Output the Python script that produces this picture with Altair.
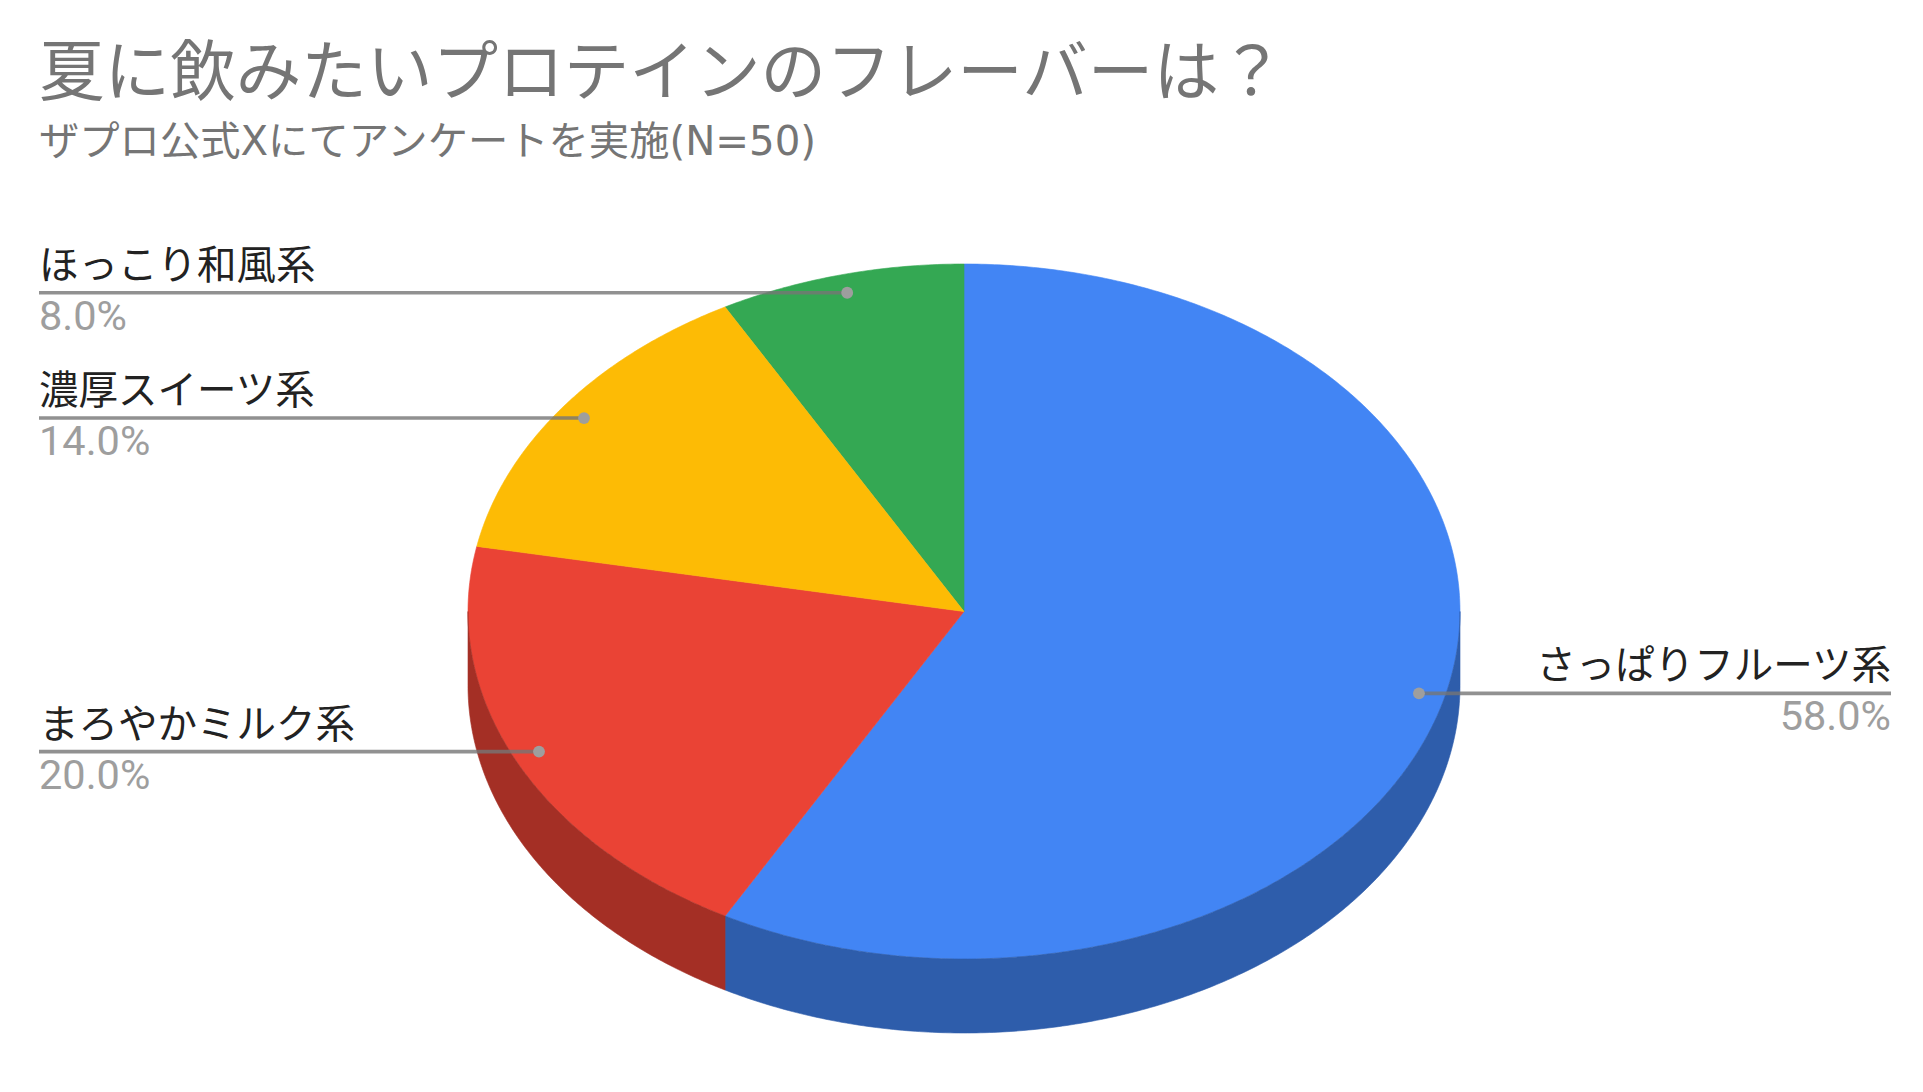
import numpy as np
import pandas as pd
import altair as alt

TITLE = "夏に飲みたいプロテインのフレーバーは？"
SUBTITLE = "ザプロ公式Xにてアンケートを実施(N=50)"
categories = ["さっぱりフルーツ系", "まろやかミルク系", "濃厚スイーツ系", "ほっこり和風系"]
shares = [58.0, 20.0, 14.0, 8.0]
percent_labels = ["58.0%", "20.0%", "14.0%", "8.0%"]
sides = ["right", "left", "left", "left"]
top_colors = ["#4285F4", "#EA4335", "#FDBB05", "#34A853"]
wall_colors = ["#2E5DAB", "#A42F25", "#B18303", "#24763A"]

# frame of the drawing, in page pixels
X0, X1, Y0, Y1 = 8, 1915, 162, 1080
CX, CY, RX, RY, DEPTH = 964, 610.5, 496, 347.5, 74
LEFT_X, RIGHT_X = 39, 1891
ANCHOR = 0.947
FONT = "Noto Sans CJK JP"
LATIN = "Roboto"


def pt(deg, r=1.0, dy=0.0):
    a = np.radians(deg)
    return [float(CX + r * RX * np.sin(a)), float(CY - r * RY * np.cos(a) + dy)]


def arc(a0, a1, dy=0.0):
    n = max(2, int(abs(a1 - a0) * 2))
    return [pt(a, 1.0, dy) for a in np.linspace(a0, a1, n)]


ends = np.cumsum(shares) * 3.6
starts = np.concatenate([[0.0], ends[:-1]])
features = []

# side wall: only the part of the front half that is seen
for name, colour, a0, a1 in zip(categories, wall_colors, starts, ends):
    lo, hi = max(a0, 90.0), min(a1, 270.0)
    if lo < hi:
        ring = arc(lo, hi) + arc(hi, lo, DEPTH)
        ring.append(ring[0])
        features.append({"type": "Feature", "geometry": {"type": "Polygon", "coordinates": [ring]},
                         "properties": {"key": "wall " + name, "name": name}})
# top face
for name, colour, a0, a1 in zip(categories, top_colors, starts, ends):
    ring = [[CX, CY]] + arc(a0, a1) + [[CX, CY]]
    features.append({"type": "Feature", "geometry": {"type": "Polygon", "coordinates": [ring]},
                     "properties": {"key": "top " + name, "name": name}})

keys = [f["properties"]["key"] for f in features]
key_colours = []
for k in keys:
    kind, nm = k.split(" ", 1)
    key_colours.append((wall_colors if kind == "wall" else top_colors)[categories.index(nm)])

rows = []
for name, pct, side, a0, a1 in zip(categories, percent_labels, sides, starts, ends):
    ax, ay = pt((a0 + a1) / 2, ANCHOR)
    rows.append({"name": name, "pct": pct, "side": side, "ax": ax, "ay": ay,
                 "ex": RIGHT_X if side == "right" else LEFT_X,
                 "ly": ay - 26, "py": ay + 25})
labels = pd.DataFrame(rows)

x = alt.X("ax:Q", scale=alt.Scale(domain=[X0, X1], nice=False, zero=False), axis=None)
y = alt.Y("ay:Q", scale=alt.Scale(domain=[Y1, Y0], nice=False, zero=False), axis=None)

colour_scale = alt.Scale(domain=keys, range=key_colours)
pie = (
    alt.Chart(alt.Data(values=features))
    .mark_geoshape(strokeWidth=0.6)
    .encode(
        fill=alt.Fill("properties.key:N", scale=colour_scale, legend=None),
        stroke=alt.Stroke("properties.key:N", scale=colour_scale, legend=None),
        order=alt.Order("properties.key:N"),
    )
    .project(type="identity", scale=1, translate=[-X0, -Y0])
)

base = alt.Chart(labels)
leaders = base.mark_rule(color="#757575", opacity=0.8, strokeWidth=3.6).encode(
    x=x, x2=alt.X2("ex:Q"), y=y
)
dots = base.mark_circle(color="#9E9E9E", opacity=1, size=140).encode(x=x, y=y)

layers = [pie, leaders, dots]
for side, align in (("left", "left"), ("right", "right")):
    part = base.transform_filter(alt.datum.side == side)
    tx = alt.X("ex:Q", scale=alt.Scale(domain=[X0, X1], nice=False, zero=False), axis=None)
    layers.append(
        part.mark_text(align=align, baseline="middle", font=FONT, fontSize=39.5, color="#222222").encode(
            x=tx, y=alt.Y("ly:Q", scale=alt.Scale(domain=[Y1, Y0], nice=False, zero=False), axis=None), text="name:N"
        )
    )
    layers.append(
        part.mark_text(align=align, baseline="middle", font=LATIN, fontSize=41.5, color="#9E9E9E").encode(
            x=tx, y=alt.Y("py:Q", scale=alt.Scale(domain=[Y1, Y0], nice=False, zero=False), axis=None), text="pct:N"
        )
    )

chart = (
    alt.layer(*layers)
    .properties(
        width=X1 - X0,
        height=Y1 - Y0,
        padding={"left": 0, "top": 35, "right": 0, "bottom": 0},
        background="white",
        title=alt.TitleParams(
            text=TITLE,
            subtitle=SUBTITLE,
            anchor="start",
            frame="group",
            dx=31,
            font=FONT,
            fontSize=65.6,
            fontWeight="normal",
            color="#757575",
            subtitleFont="DejaVu Sans, " + FONT,
            subtitleFontSize=40.3,
            subtitleColor="#757575",
            subtitlePadding=14,
            offset=0,
        ),
    )
    .configure_view(stroke=None)
)

chart.save("out.html", embed_options={"renderer": "svg", "actions": False})
